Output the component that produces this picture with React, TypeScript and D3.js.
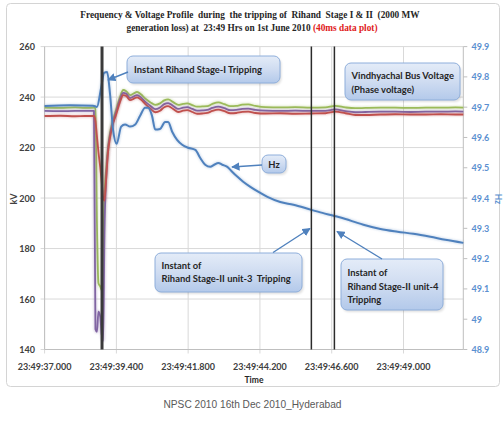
import React from "react";
import * as d3 from "d3";

// Time axis: seconds after 23:49:00
const TIME_TICKS = [37.0, 39.4, 41.8, 44.2, 46.6, 49.0];
const TIME_LABELS = ["23:49:37.000", "23:49:39.400", "23:49:41.800", "23:49:44.200", "23:49:46.600", "23:49:49.000"];
const KV_TICKS = [140, 160, 180, 200, 220, 240, 260];
const HZ_TICKS = [48.9, 49.0, 49.1, 49.2, 49.3, 49.4, 49.5, 49.6, 49.7, 49.8, 49.9];
const HZ_LABELS = ["48.9", "49", "49.1", "49.2", "49.3", "49.4", "49.5", "49.6", "49.7", "49.8", "49.9"];

// Instants of unit tripping (s after 23:49:00)
const EVENT_TIMES = [38.92, 45.92, 46.69];

// Vindhyachal bus phase voltages (kV), sampled at shared instants
const V_TIMES = [
  37.0, 37.52, 38.02, 38.35, 38.65, 38.7, 38.75, 38.8, 38.86, 38.91, 38.96, 39.0, 39.06, 39.12, 39.19,
  39.29, 39.39, 39.52, 39.63, 39.73, 39.86, 39.99, 40.09, 40.23, 40.36, 40.53, 40.7, 40.86, 41.0, 41.13,
  41.3, 41.47, 41.63, 41.77, 41.94, 42.1, 42.27, 42.44, 42.61, 42.81, 43.01, 43.21, 43.41, 43.61, 43.81,
  44.05, 44.38, 44.88, 45.38, 45.89, 46.39, 46.72, 47.06, 47.39, 47.73, 48.23, 48.73, 49.23, 49.74, 50.24,
  50.74, 51.0,
];
const V_GREEN = [
  235.8, 235.7, 235.9, 235.7, 235.8, 235.6, 190, 166.3, 165, 163.6, 180, 200, 212, 220, 226,
  231, 235, 240, 242.8, 242.3, 240.8, 241.5, 242.1, 241, 239.5, 238, 236.9, 237.5, 238.7, 239.1,
  238, 236.9, 237.3, 237.5, 236.8, 236.2, 236.3, 236.4, 237.3, 237.9, 237.2, 236.4, 236.5, 237, 237.1,
  236.5, 236.0, 235.9, 236.0, 235.8, 235.9, 236.5, 235.9, 235.6, 235.7, 235.8, 235.8, 235.7, 235.8, 235.8,
  235.9, 235.8,
];
const V_PURPLE = [
  234.5, 234.4, 234.5, 234.5, 234.5, 148, 147, 155, 153, 146, 143.5, 185, 208, 219, 225,
  230, 234, 239, 241.7, 241.3, 239.6, 240.3, 240.8, 239.8, 238.2, 236.6, 235.2, 235.9, 237.2, 237.6,
  236.5, 235.3, 235.8, 236, 235.3, 234.6, 234.7, 234.9, 235.7, 236.2, 235.6, 234.8, 234.9, 235.3, 235.4,
  234.9, 234.6, 234.5, 234.6, 234.5, 234.5, 235.1, 234.4, 234.0, 234.1, 234.2, 234.2, 234.1, 234.2, 234.2,
  234.3, 234.2,
];
const V_RED = [
  232.5, 232.6, 232.4, 232.5, 232.5, 230.5, 224.4, 218.3, 212.2, 206.2, 200.1, 199, 208, 218, 224,
  229.5, 233, 238, 240.8, 240.4, 238.8, 239.4, 239.9, 238.9, 237.3, 235.5, 234, 234.6, 236, 236.4,
  235.3, 234.1, 234.6, 234.8, 234.1, 233.4, 233.5, 233.7, 234.5, 235, 234.4, 233.6, 233.7, 234.1, 234.2,
  233.7, 233.5, 233.6, 233.4, 233.5, 233.6, 234.2, 233.6, 232.9, 232.9, 233.1, 233.2, 233.1, 233.1, 233.2,
  233.1, 233.1,
];

// System frequency (Hz)
const HZ_TIMES = [
  37.0, 37.85, 38.62, 38.75, 38.89, 38.99, 39.09, 39.19, 39.29, 39.41, 39.56, 39.69, 39.86, 40.03, 40.19,
  40.36, 40.46, 40.59, 40.7, 40.86, 41.03, 41.13, 41.27, 41.43, 41.6, 41.8, 42.04, 42.2, 42.37, 42.54,
  42.67, 42.81, 42.94, 43.11, 43.27, 43.44, 43.64, 43.88, 44.14, 44.45, 44.88, 45.32, 45.92, 46.29, 46.69,
  47.06, 47.46, 47.66, 48.23, 48.8, 49.33, 49.9, 50.4, 51.0,
];
const HZ_VALUES = [
  49.704, 49.706, 49.705, 49.701, 49.764, 49.813, 49.816, 49.741, 49.625, 49.579, 49.636, 49.643, 49.636, 49.643, 49.671,
  49.698, 49.698, 49.672, 49.626, 49.628, 49.651, 49.651, 49.618, 49.592, 49.576, 49.566, 49.559, 49.533, 49.51, 49.503,
  49.51, 49.516, 49.51, 49.503, 49.487, 49.471, 49.454, 49.437, 49.421, 49.404, 49.387, 49.378, 49.361, 49.351, 49.341,
  49.331, 49.318, 49.312, 49.298, 49.289, 49.282, 49.272, 49.262, 49.252,
];

const FONT = "Lato, 'Open Sans', sans-serif";
const SERIF = "'Liberation Serif', 'DejaVu Serif', serif";

const W = 504;
const H = 421;
const L = 44.6;
const R = 463.3;
const T = 46.6;
const B = 349.5;

type Pt = [number, number];

function Callout(props: {
  x: number;
  y: number;
  w: number;
  h: number;
  lines: string[];
  tx: number;
  ty: number[];
  anchor?: "start" | "middle";
}) {
  const { x, y, w, h, lines, tx, ty, anchor } = props;
  return (
    <g>
      <rect x={x + 1.5} y={y + 2} width={w} height={h} rx={6} fill="#000" opacity={0.12} filter="url(#soft)" />
      <rect x={x} y={y} width={w} height={h} rx={6} fill="url(#calloutFill)" stroke="#8eaedb" strokeWidth={1} />
      {lines.map((s, i) => (
        <text
          key={i}
          x={tx}
          y={ty[i]}
          textAnchor={anchor ?? "start"}
          dominantBaseline="central"
          fontFamily={FONT}
          fontWeight={700}
          fontSize={9.4}
          fill="#262626"
          style={{ whiteSpace: "pre" }}
        >
          {s}
        </text>
      ))}
    </g>
  );
}

export default function App() {
  const x = d3.scaleLinear().domain([37, 51]).range([L, R]);
  const yV = d3.scaleLinear().domain([140, 260]).range([B, T]);
  const yHz = d3.scaleLinear().domain([48.9, 49.9]).range([B, T]);

  const vLine = d3
    .line<Pt>()
    .x((d) => x(d[0]))
    .y((d) => yV(d[1]))
    .curve(d3.curveMonotoneX);
  const hzLine = d3
    .line<Pt>()
    .x((d) => x(d[0]))
    .y((d) => yHz(d[1]))
    .curve(d3.curveMonotoneX);

  const zip = (ts: number[], vs: number[]): Pt[] => ts.map((t, i) => [t, vs[i]] as Pt);

  const voltage = [
    { name: "green", color: "#9bbb59", values: V_GREEN },
    { name: "purple", color: "#8064a2", values: V_PURPLE },
    { name: "red", color: "#c0504d", values: V_RED },
  ];

  return (
    <svg
      width={W}
      height={H}
      viewBox={`0 0 ${W} ${H}`}
      style={{ position: "absolute", left: 0, top: 0, background: "#fff" }}
    >
      <defs>
        <linearGradient id="calloutFill" x1="0" y1="0" x2="0" y2="1">
          <stop offset="0" stopColor="#e4ecf8" />
          <stop offset="0.5" stopColor="#cfdcf1" />
          <stop offset="1" stopColor="#b3c9ea" />
        </linearGradient>
        <filter id="soft" x="-10%" y="-10%" width="120%" height="130%">
          <feGaussianBlur stdDeviation="1.2" />
        </filter>
        <filter id="glow" x="-5%" y="-5%" width="110%" height="110%">
          <feGaussianBlur stdDeviation="0.8" />
        </filter>
        <marker id="arrowBlue" viewBox="0 0 10 10" refX="9" refY="5" markerWidth="6" markerHeight="6" orient="auto">
          <path d="M0,0 L10,5 L0,10 z" fill="#4f81bd" />
        </marker>
      </defs>

      {/* chart frame */}
      <rect x={6.5} y={3.5} width={493} height={383} rx={4} fill="#fff" stroke="#d4d4d4" strokeWidth={1} />

      {/* title */}
      <text
        x={250}
        y={15}
        textAnchor="middle"
        dominantBaseline="central"
        fontFamily={SERIF}
        fontWeight={700}
        fontSize={9.3}
        fill="#262626"
        style={{ whiteSpace: "pre" }}
      >
        Frequency &amp; Voltage Profile  during  the tripping of  Rihand  Stage I &amp; II  (2000 MW
      </text>
      <text
        x={252}
        y={27.5}
        textAnchor="middle"
        dominantBaseline="central"
        fontFamily={SERIF}
        fontWeight={700}
        fontSize={9.3}
        fill="#262626"
        style={{ whiteSpace: "pre" }}
      >
        generation loss) at  23:49 Hrs on 1st June 2010 <tspan fill="#e0201b">(40ms data plot)</tspan>
      </text>

      {/* gridlines */}
      {KV_TICKS.map((v) => (
        <line key={`h${v}`} x1={L - 4} x2={R} y1={yV(v)} y2={yV(v)} stroke="#d9d9d9" strokeWidth={1} />
      ))}
      {TIME_TICKS.map((t) => (
        <line key={`v${t}`} x1={x(t)} x2={x(t)} y1={T} y2={B + 4} stroke="#d9d9d9" strokeWidth={1} />
      ))}
      <line x1={L} x2={L} y1={T} y2={B} stroke="#bfbfbf" />
      <line x1={L} x2={R} y1={B} y2={B} stroke="#bfbfbf" />
      <line x1={R} x2={R} y1={T} y2={B} stroke="#bfbfbf" />
      {HZ_TICKS.map((v) => (
        <line key={`rt${v}`} x1={R} x2={R + 4} y1={yHz(v)} y2={yHz(v)} stroke="#bfbfbf" />
      ))}

      {/* left axis labels */}
      {KV_TICKS.map((v) => (
        <text
          key={`kl${v}`}
          x={35}
          y={yV(v)}
          textAnchor="end"
          dominantBaseline="central"
          fontFamily={FONT}
          fontWeight={700}
          fontSize={9}
          fill="#404040"
        >
          {v}
        </text>
      ))}
      {/* right axis labels */}
      {HZ_TICKS.map((v, i) => (
        <text
          key={`hl${v}`}
          x={471.5}
          y={yHz(v)}
          textAnchor="start"
          dominantBaseline="central"
          fontFamily={FONT}
          fontWeight={700}
          fontSize={9}
          fill="#5b8fd0"
        >
          {HZ_LABELS[i]}
        </text>
      ))}
      {/* time labels */}
      {TIME_TICKS.map((t, i) => (
        <text
          key={`tl${t}`}
          x={x(t)}
          y={366.5}
          textAnchor="middle"
          dominantBaseline="central"
          fontFamily={FONT}
          fontWeight={700}
          fontSize={9}
          fill="#404040"
        >
          {TIME_LABELS[i]}
        </text>
      ))}
      <text x={254} y={380} textAnchor="middle" dominantBaseline="central" fontFamily={FONT} fontWeight={700} fontSize={8.5} fill="#262626">
        Time
      </text>
      <text
        transform="translate(13,199) rotate(-90)"
        textAnchor="middle"
        dominantBaseline="central"
        fontFamily={FONT}
        fontWeight={700}
        fontSize={9}
        fill="#404040"
      >
        kV
      </text>
      <text
        transform="translate(498,199) rotate(90)"
        textAnchor="middle"
        dominantBaseline="central"
        fontFamily={FONT}
        fontWeight={700}
        fontSize={8.5}
        fill="#5b8fd0"
      >
        Hz
      </text>

      {/* series */}
      {voltage.map((s) => (
        <g key={s.name}>
          <path d={vLine(zip(V_TIMES, s.values)) ?? ""} fill="none" stroke={s.color} strokeWidth={3.2} opacity={0.3} filter="url(#glow)" />
          <path d={vLine(zip(V_TIMES, s.values)) ?? ""} fill="none" stroke={s.color} strokeWidth={1.8} strokeLinejoin="round" />
        </g>
      ))}
      <path d={hzLine(zip(HZ_TIMES, HZ_VALUES)) ?? ""} fill="none" stroke="#4f81bd" strokeWidth={3.4} opacity={0.25} filter="url(#glow)" />
      <path d={hzLine(zip(HZ_TIMES, HZ_VALUES)) ?? ""} fill="none" stroke="#4f81bd" strokeWidth={2} strokeLinejoin="round" />

      {/* tripping instants */}
      {EVENT_TIMES.map((t, i) => (
        <line
          key={`e${i}`}
          x1={x(t)}
          x2={x(t)}
          y1={T}
          y2={B}
          stroke={i === 0 ? "#3a3a3a" : "#2b2b2b"}
          strokeWidth={i === 0 ? 3 : 1.5}
        />
      ))}

      {/* callouts */}
      <Callout x={127} y={56} w={153} h={27} lines={["Instant Rihand Stage-I Tripping"]} tx={198} ty={[69.5]} anchor="middle" />
      <line x1={128} y1={72} x2={108} y2={80} stroke="#4f81bd" strokeWidth={1.4} markerEnd="url(#arrowBlue)" />

      <Callout x={262} y={155} w={24} h={18} lines={["Hz"]} tx={274} ty={[164]} anchor="middle" />
      <line x1={262} y1={165} x2={232} y2={167} stroke="#4f81bd" strokeWidth={1.4} markerEnd="url(#arrowBlue)" />

      <Callout x={345} y={63} w={115} h={37} lines={["Vindhyachal Bus Voltage", "(Phase voltage)"]} tx={351.5} ty={[75.5, 89]} />

      <Callout
        x={155}
        y={253}
        w={147}
        h={39}
        lines={["Instant of", "Rihand Stage-II unit-3  Tripping"]}
        tx={161.5}
        ty={[265, 278.5]}
      />
      <line x1={273} y1={252.5} x2={310} y2={228.5} stroke="#4f81bd" strokeWidth={1.4} markerEnd="url(#arrowBlue)" />

      <Callout
        x={341}
        y={259}
        w={102}
        h={51}
        lines={["Instant of", "Rihand Stage-II unit-4", "Tripping"]}
        tx={347.5}
        ty={[272.5, 286, 299.5]}
      />
      <line x1={382} y1={259} x2={337} y2={231.5} stroke="#4f81bd" strokeWidth={1.4} markerEnd="url(#arrowBlue)" />

      {/* footer */}
      <text
        x={252.5}
        y={403.5}
        textAnchor="middle"
        dominantBaseline="central"
        fontFamily="'Liberation Sans Narrow', 'Liberation Sans', sans-serif"
        fontSize={11.5}
        fill="#595959"
        textLength={178}
        lengthAdjust="spacingAndGlyphs"
      >
        NPSC 2010 16th Dec 2010_Hyderabad
      </text>
    </svg>
  );
}
